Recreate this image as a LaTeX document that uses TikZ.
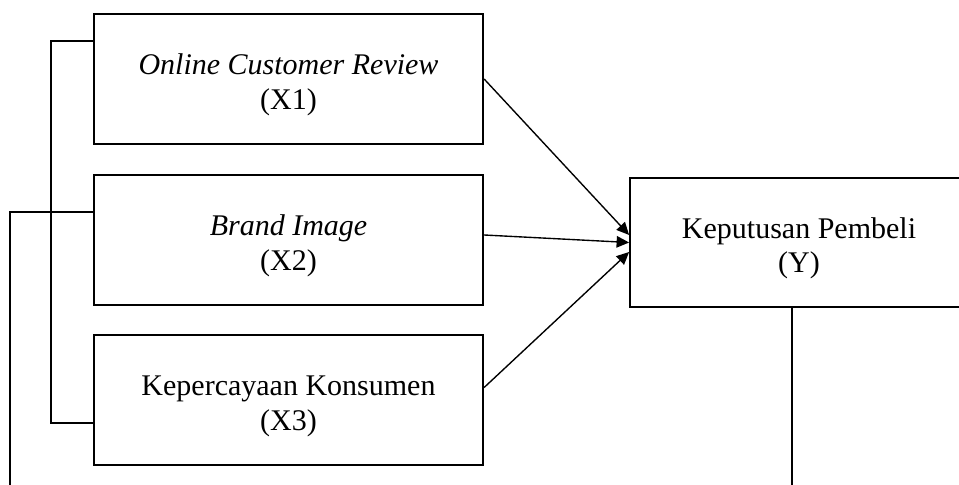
\documentclass[tikz,border=0pt]{standalone}
\usepackage{fontspec}
\setmainfont{Liberation Serif}
\usetikzlibrary{arrows.meta}

\newcommand{\lowstrut}{\rule{0pt}{13pt}}

\begin{document}
\begin{tikzpicture}[x=0.4pt,y=-0.4pt,
    varbox/.style={draw,line width=0.9pt,inner sep=0pt,align=center,
      minimum width=155.6pt,minimum height=52pt,
      font=\fontsize{12}{13.8}\selectfont},
    ybox/.style={varbox,minimum width=135pt,minimum height=51.6pt},
    link/.style={line width=0.55pt,-{Triangle[length=5pt,width=4.6pt]}},
    frame/.style={line width=0.9pt}]
      \useasboundingbox (0,0) rectangle (959,485);
      % variabel bebas dan terikat
      \node[varbox] (X1) at (288.5,79)  {\lowstrut\textit{Online Customer Review}\\(X1)};
      \node[varbox] (X2) at (288.5,240) {\lowstrut\textit{Brand Image}\\(X2)};
      \node[varbox] (X3) at (288.5,400) {\lowstrut Kepercayaan Konsumen\\(X3)};
      \node[ybox]   (Y)  at (799,242.5) {\lowstrut Keputusan Pembeli\\(Y)};
      % panah
      \draw[link] (X1.east) -- ([yshift=3pt]Y.west);
      \draw[link] ([yshift=2pt]X2.east) -- (Y.west);
      \draw[link] ([yshift=5pt]X3.east) -- ([yshift=-3.8pt]Y.west);
      % garis kiri
      \coordinate (top) at (51,41);
      \coordinate (bot) at (51,423);
      \coordinate (mid) at (10,212);
      \coordinate (low) at (10,485);
      \draw[frame] (X1.west |- top) -- (top) -- (bot) -- (X3.west |- bot);
      \draw[frame] (X2.west |- mid) -- (mid) -- (low);
      \draw[frame] ([xshift=-2.8pt]Y.south) -- ([xshift=-2.8pt]Y.south |- low);
    \end{tikzpicture}
\end{document}
